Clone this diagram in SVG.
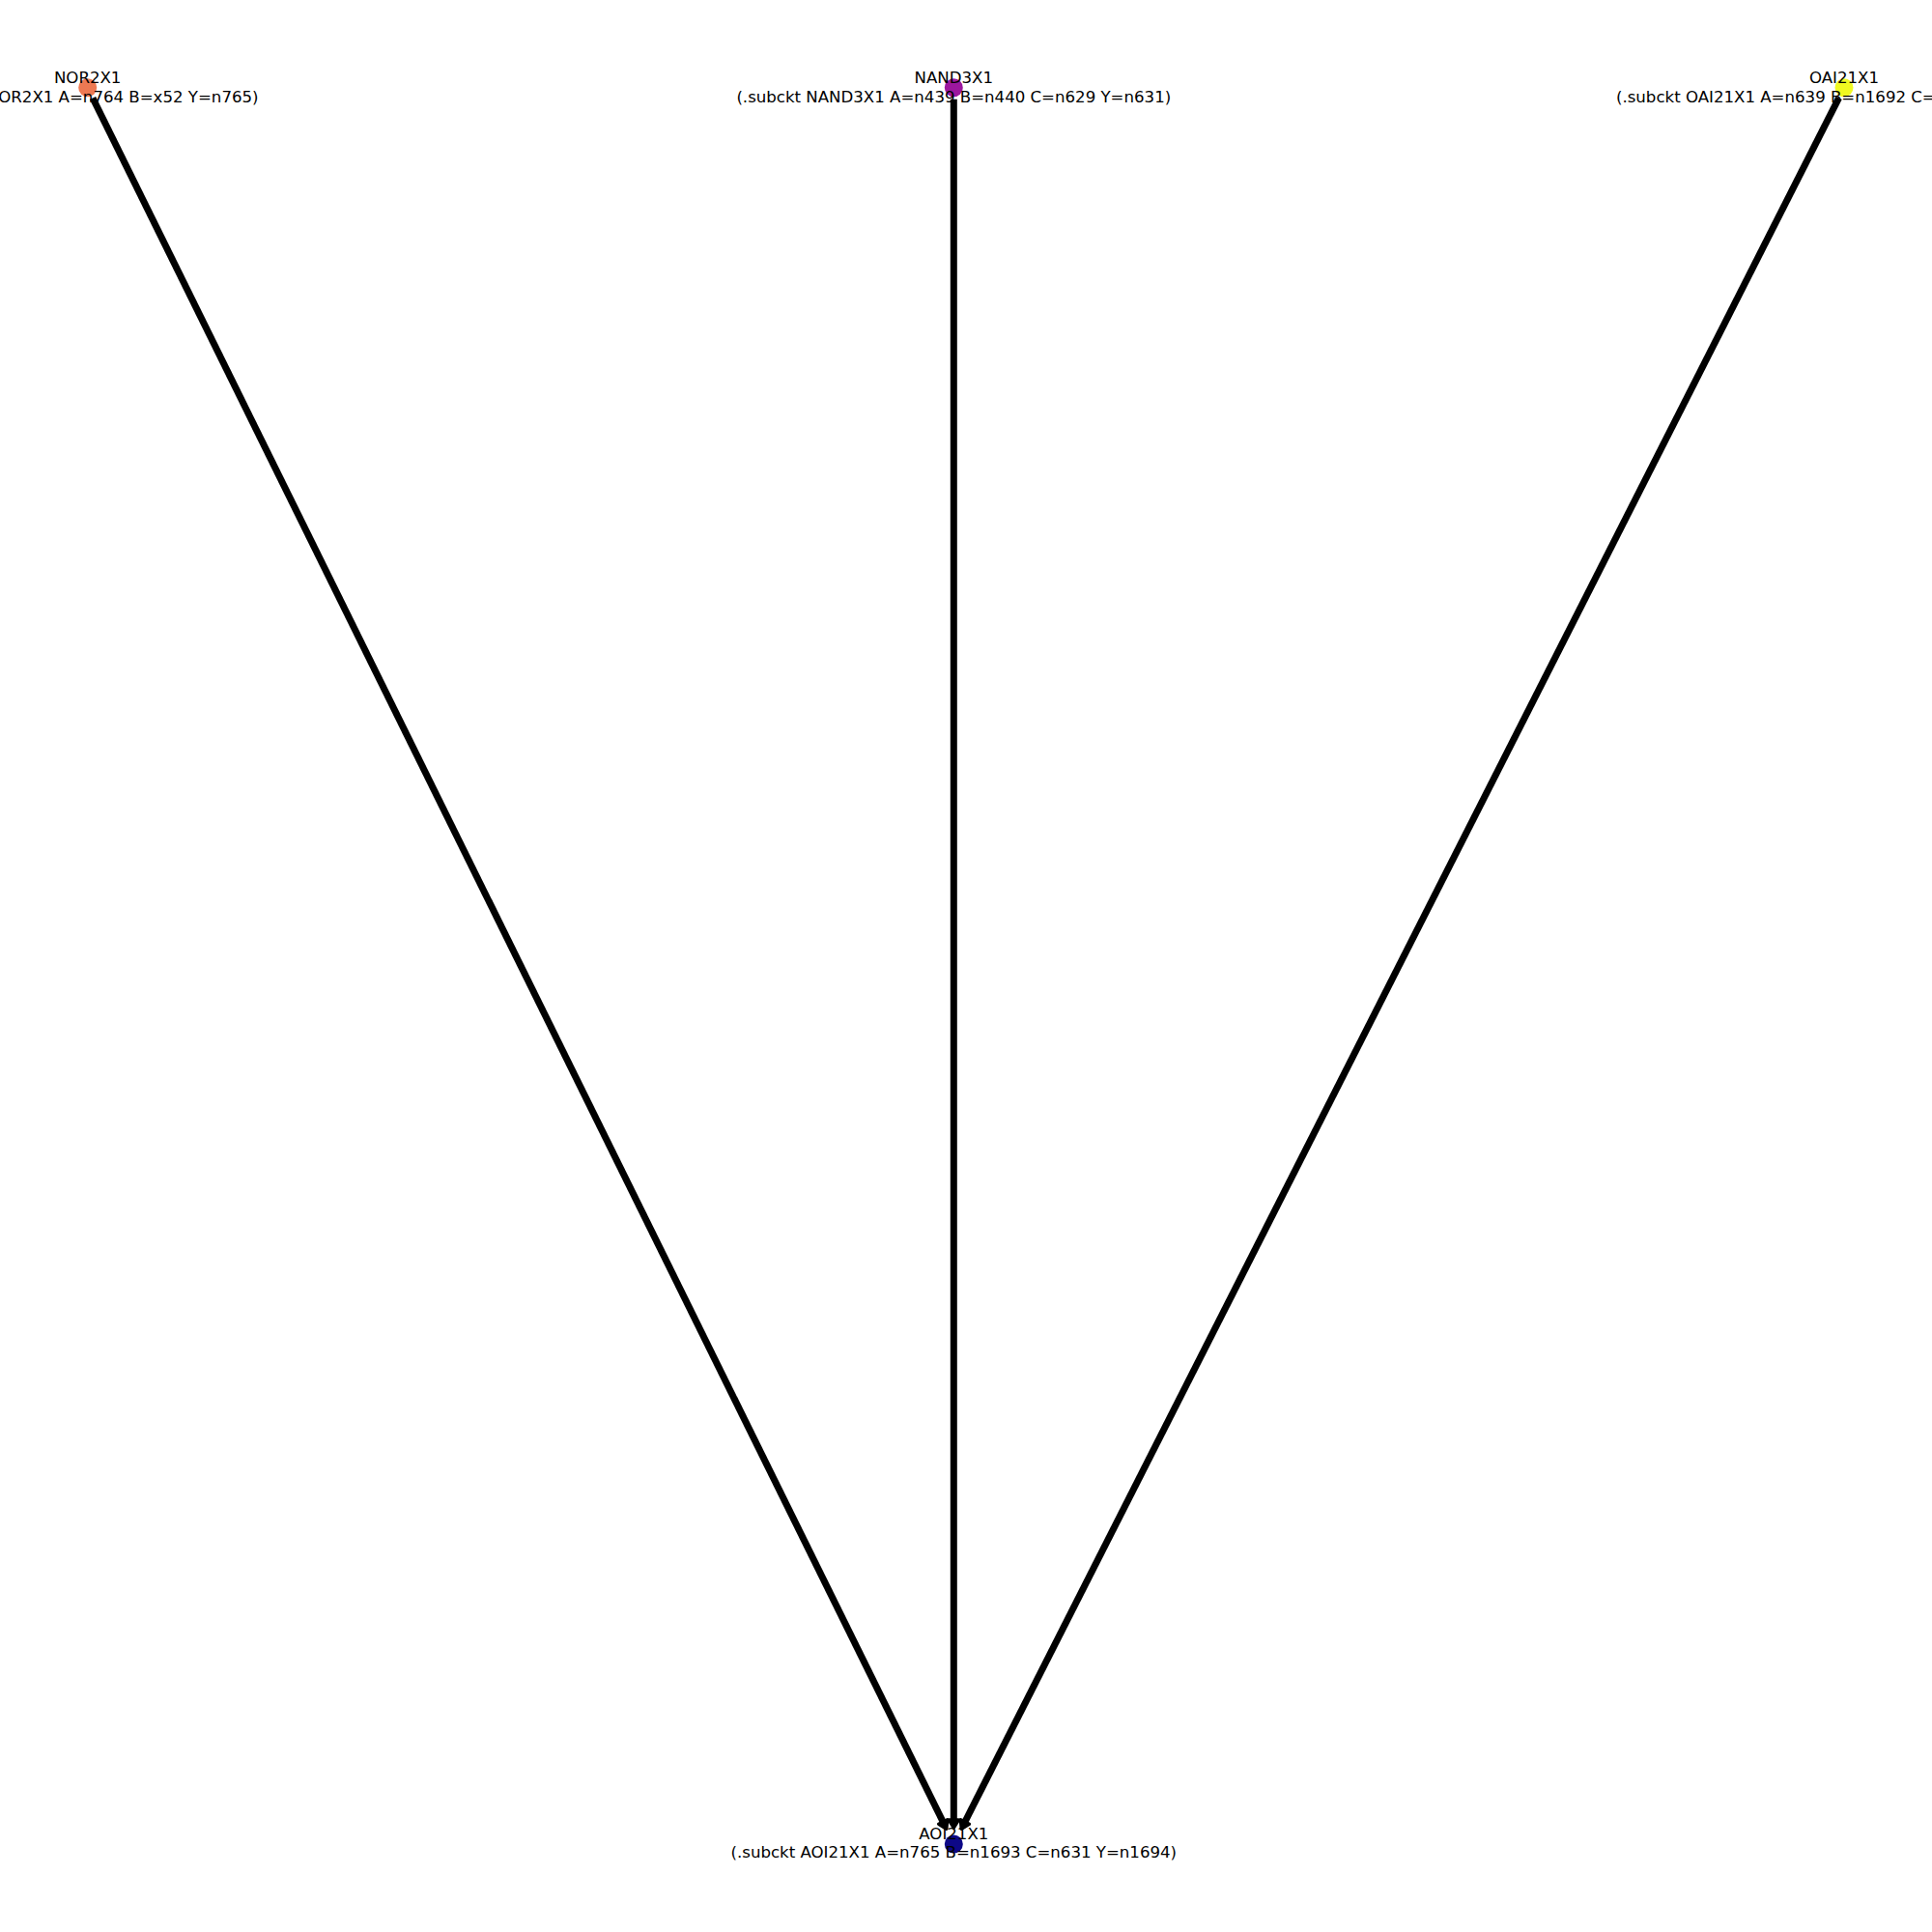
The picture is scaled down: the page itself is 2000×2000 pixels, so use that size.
<svg xmlns="http://www.w3.org/2000/svg" width="2000" height="2000" viewBox="0 0 2000 2000">
<style>
.edge{stroke:#000;stroke-width:7;fill:none;marker-end:url(#ah)}
.lbl{font-family:"DejaVu Sans",sans-serif;font-size:16.6px;fill:#000;text-anchor:middle}
</style>
<defs>
<marker id="ah" markerUnits="userSpaceOnUse" orient="auto" markerWidth="20" markerHeight="20" refX="1" refY="10" viewBox="0 0 20 20" overflow="visible">
<path d="M1,5 L9,10 L1,15 z" fill="#000" stroke="#000" stroke-width="3.5" stroke-linejoin="round"/>
</marker>
</defs>
<rect width="2000" height="2000" fill="#fff"/>
<g id="connectors">
<line class="edge" x1="96.0" y1="101.5" x2="976.2" y2="1886.0"/>
<line class="edge" x1="987.3" y1="102.7" x2="987.3" y2="1884.0"/>
<line class="edge" x1="1903.6" y1="101.4" x2="998.9" y2="1886.0"/>
</g>
<g id="NOR2X1"><circle cx="90.7" cy="90.7" r="9.5" fill="#ed7953"/></g>
<g id="NAND3X1"><circle cx="987.3" cy="90.7" r="9.5" fill="#9c179e"/></g>
<g id="OAI21X1"><circle cx="1909" cy="90.7" r="9.5" fill="#f0f921"/></g>
<g id="AOI21X1"><circle cx="987.3" cy="1909" r="9.5" fill="#0d0887"/></g>
<g id="labels">
<text class="lbl" x="90.7" y="86">NOR2X1</text>
<text class="lbl" x="90.7" y="105.7">(.subckt NOR2X1 A=n764 B=x52 Y=n765)</text>
<text class="lbl" x="987.3" y="86">NAND3X1</text>
<text class="lbl" x="987.3" y="105.7">(.subckt NAND3X1 A=n439 B=n440 C=n629 Y=n631)</text>
<text class="lbl" x="1909" y="86">OAI21X1</text>
<text class="lbl" x="1909" y="105.7">(.subckt OAI21X1 A=n639 B=n1692 C=n1693 Y=n1694)</text>
<text class="lbl" x="987.3" y="1903.5">AOI21X1</text>
<text class="lbl" x="987.3" y="1923.3">(.subckt AOI21X1 A=n765 B=n1693 C=n631 Y=n1694)</text>
</g>
</svg>
